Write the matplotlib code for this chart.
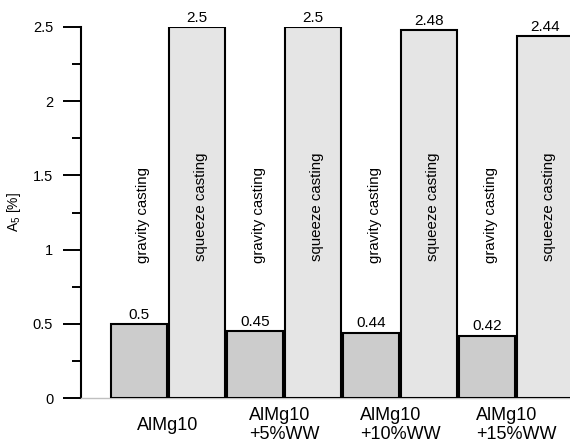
import matplotlib.pyplot as plt
import numpy as np

plt.rcParams['font.family'] = ['Liberation Sans', 'DejaVu Sans']
plt.rcParams['mathtext.fontset'] = 'custom'
plt.rcParams['mathtext.rm'] = 'Liberation Sans'
plt.rcParams['ytick.direction'] = 'out'
plt.rcParams['ytick.major.size'] = 13
plt.rcParams['ytick.minor.size'] = 6.5
plt.rcParams['ytick.major.width'] = 1.4
plt.rcParams['ytick.minor.width'] = 1.4
plt.rcParams['ytick.major.pad'] = 7
plt.rcParams['ytick.labelsize'] = 10.5

# data
groups = ['AlMg10', 'AlMg10\n+5%WW', 'AlMg10\n+10%WW', 'AlMg10\n+15%WW']
gravity = [0.5, 0.45, 0.44, 0.42]
squeeze = [2.5, 2.5, 2.48, 2.44]
gravity_labels = ['0.5', '0.45', '0.44', '0.42']
squeeze_labels = ['2.5', '2.5', '2.48', '2.44']

x = np.arange(len(groups))
w = 0.48

fig = plt.figure(figsize=(5.7, 4.43), dpi=100)
fig.patch.set_facecolor('white')
# axes runs past the right edge so the last bar is cut off like the original
ax = fig.add_axes([81 / 570, 45 / 443, 522 / 570, 371 / 443])

ax.bar(x - 0.25, gravity, w, color='#cccccc', edgecolor='black', linewidth=1.5, zorder=3)
ax.bar(x + 0.25, squeeze, w, color='#e5e5e5', edgecolor='black', linewidth=1.5, zorder=3)

for i in range(len(groups)):
    ax.text(x[i] - 0.25, gravity[i] + 0.015, gravity_labels[i], ha='center', va='bottom', fontsize=11)
    ax.text(x[i] + 0.25, squeeze[i] + 0.015, squeeze_labels[i], ha='center', va='bottom', fontsize=11, clip_on=False)
    ax.text(x[i] - 0.25 + 0.035, 1.23, 'gravity casting', rotation=90, ha='center', va='center', fontsize=10.8)
    ax.text(x[i] + 0.25 + 0.035, 1.29, 'squeeze casting', rotation=90, ha='center', va='center', fontsize=10.8)
    ax.text(x[i], -0.073, groups[i], transform=ax.get_xaxis_transform(), ha='center', va='center',
            multialignment='left', fontsize=13, linespacing=1.1)

ax.set_xlim(-0.75, 3.75)
ax.set_ylim(0, 2.5)

ax.set_yticks([0, 0.5, 1, 1.5, 2, 2.5])
ax.set_yticklabels(['0', '0.5', '1', '1.5', '2', '2.5'])
ax.set_yticks(np.arange(0.25, 2.5, 0.5), minor=True)
ax.set_xticks([])

ax.set_ylabel(r'$\mathregular{A_5}$ [%]', fontsize=10)
ax.yaxis.set_label_coords(-58 / 522, 0.5)

for s in ['top', 'right']:
    ax.spines[s].set_visible(False)
ax.spines['left'].set_linewidth(1.5)
ax.spines['bottom'].set_color('#c0c0c0')
ax.spines['bottom'].set_linewidth(1)

fig.savefig('out.png', dpi=100, facecolor=fig.get_facecolor())
